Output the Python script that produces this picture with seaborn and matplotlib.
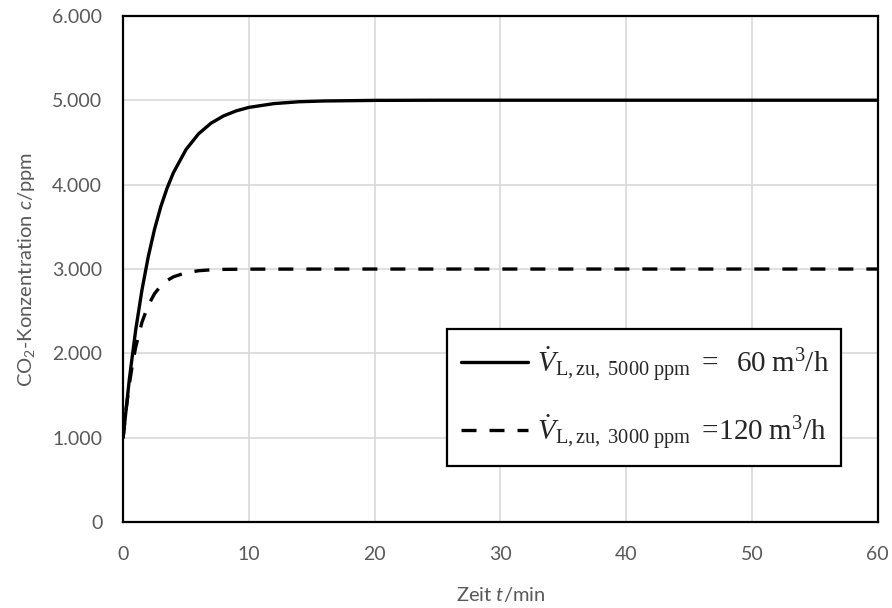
import pandas as pd
import matplotlib
matplotlib.use('Agg')
import matplotlib.pyplot as plt
import seaborn as sns
from matplotlib.ticker import FuncFormatter

# Values (time in min, concentration in ppm)
t_60 = [0, 0.5, 1, 1.5, 2, 2.5, 3, 3.5, 4, 5, 6, 7, 8, 9, 10, 12, 14, 16, 20, 25, 30, 40, 50, 60]
c_60 = [1000, 1700, 2277, 2752, 3146, 3472, 3740, 3960, 4141, 4415, 4602, 4729, 4815, 4874,
        4915, 4960, 4982, 4991, 4998, 5000, 5000, 5000, 5000, 5000]

t_120 = [0, 0.25, 0.5, 0.75, 1, 1.5, 2, 2.5, 3, 3.5, 4, 5, 6, 7, 8, 10, 20, 30, 40, 50, 60]
c_120 = [1000, 1350, 1638, 1876, 2074, 2370, 2570, 2708, 2801, 2864, 2908, 2957, 2980, 2991,
         2996, 2999, 3000, 3000, 3000, 3000, 3000]

label_60 = r'$\dot{V}_{\mathrm{L,zu,\ 5000\ ppm}}\ =\ \ 60\;\mathrm{m}^3/\mathrm{h}$'
label_120 = r'$\dot{V}_{\mathrm{L,zu,\ 3000\ ppm}}\ =\!120\;\mathrm{m}^3/\mathrm{h}$'

df_60 = pd.DataFrame({'t': t_60, 'c': c_60})
df_120 = pd.DataFrame({'t': t_120, 'c': c_120})

sns.set_style('white')
plt.rcParams['font.family'] = ['Lato', 'DejaVu Sans']
plt.rcParams['mathtext.fontset'] = 'custom'
plt.rcParams['mathtext.rm'] = 'Liberation Serif'
plt.rcParams['mathtext.it'] = 'Liberation Serif:italic'
plt.rcParams['mathtext.sf'] = 'Lato'
plt.rcParams['mathtext.cal'] = 'Lato:italic'

fig, ax = plt.subplots(figsize=(8.92, 6.08), dpi=100)
fig.subplots_adjust(left=0.138, right=0.984, top=0.974, bottom=0.141)

sns.lineplot(data=df_60, x='t', y='c', ax=ax, color='black', linewidth=2.4, label=label_60)
sns.lineplot(data=df_120, x='t', y='c', ax=ax, color='black', linewidth=2.4,
             linestyle=(0, (4.5, 3.9)), label=label_120)

ax.set_xlim(0, 60)
ax.set_ylim(0, 6000)
ax.set_xticks(range(0, 61, 10))
ax.set_yticks(range(0, 6001, 1000))
ax.yaxis.set_major_formatter(FuncFormatter(lambda v, p: f'{int(v):,}'.replace(',', '.')))
ax.grid(True, color='#d9d9d9', linewidth=1.2)
ax.tick_params(axis='both', length=0, labelsize=14, labelcolor='#595959')
ax.tick_params(axis='x', pad=17)
ax.tick_params(axis='y', pad=15)
for s in ax.spines.values():
    s.set_color('black')
    s.set_linewidth(1.6)

ax.set_xlabel(r'Zeit $\mathcal{t}$/min', fontsize=14.5, color='#595959', labelpad=16)
ax.set_ylabel(r'CO$_\mathsf{2}$-Konzentration $\mathcal{c}$/ppm', fontsize=14.5,
              color='#595959', labelpad=11)

leg = ax.legend(loc='upper left', bbox_to_anchor=(0.429, 0.111, 0.522, 0.270), mode='expand',
                fontsize=21, frameon=True, fancybox=False, handlelength=2.3,
                borderaxespad=0, borderpad=0.5, labelspacing=0.98, handletextpad=0.3)
leg.get_frame().set_edgecolor('black')
leg.get_frame().set_linewidth(1.6)
leg.get_frame().set_alpha(1)

plt.savefig('out.png', dpi=100)
